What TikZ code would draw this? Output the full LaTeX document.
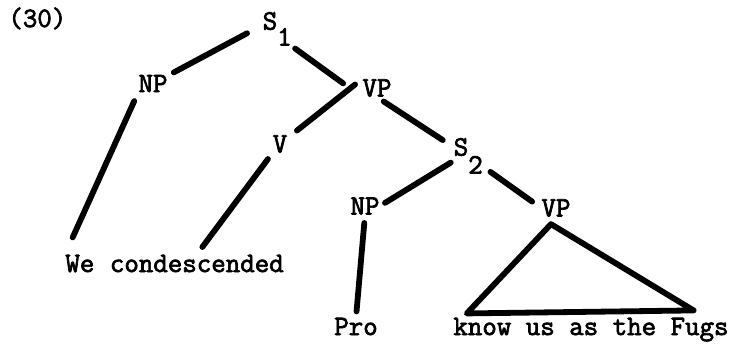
\documentclass[tikz,border=0pt]{standalone}
\usepackage{fontspec}
\newfontfamily\typewriter{Latin Modern Mono}[FakeBold=2.5]
\usetikzlibrary{calc}

\begin{document}
\begin{tikzpicture}[x=0.5pt, y=-0.5pt,
        cat/.style={inner sep=0pt, font=\fontsize{14.06}{16}\typewriter},
        word/.style={cat, anchor=base west},
        branch/.style={line width=2.9pt, line cap=round, line join=round}]
    \useasboundingbox (0,0) rectangle (734,344);

    \node[word] (num) at (8,27) {(30)};

    \node[cat] (S1) at (270,21) {S\rlap{\smash{\raisebox{-8pt}{1}}}};
    \node[cat] (NP1) at (153,83.5) {NP};
    \node[cat] (VP1) at (377,88) {VP};
    \node[cat] (V) at (280,144) {V};
    \node[cat] (S2) at (461,147) {S\rlap{\smash{\raisebox{-9pt}{2}}}};
    \node[cat] (NP2) at (365,206) {NP};
    \node[cat] (VP2) at (556,208) {VP};

    \node[word] (We) at (65,272) {We};
    \node[word] (cond) at ([xshift=7.38pt]We.base east) {condescended};
    \node[cat, anchor=base] (Pro) at (356,335) {Pro};
    \node[word] (Fugs) at (453,335) {know us as the Fugs};

    \foreach \a/\b/\s/\t in {S1.center/NP1.center/13pt/11.8pt,
            S1.south/VP1.south west/15.5pt/11.7pt,
            VP1.north west/V.center/4.5pt/10.8pt,
            VP1.south/S2.west/4pt/6.3pt,
            NP1.south west/We.north west/4.7pt/9.3pt,
            V.south west/cond.north/3.7pt/4.6pt,
            S2.south/NP2.east/6pt/3pt,
            S2.south east/VP2.west/13.4pt/5.5pt,
            NP2.south/Pro.north/4pt/3pt} {
            \draw[branch, shorten <=\s, shorten >=\t] (\a) -- (\b);
        }

    \draw[branch] ($(VP2.south)+(-2.5pt,-3.5pt)$)
        -- ($(Fugs.north west)!0.05!(Fugs.north east)+(0,2pt)$)
        -- ($(Fugs.north west)!0.872!(Fugs.north east)+(0,3.5pt)$) -- cycle;
\end{tikzpicture}
\end{document}
